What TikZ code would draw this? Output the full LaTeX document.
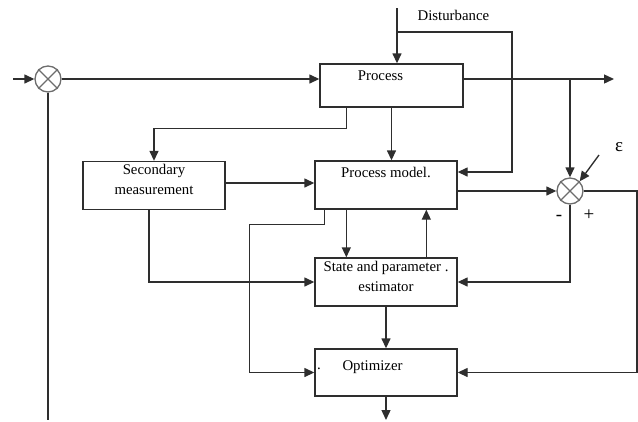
\documentclass[tikz,border=0pt]{standalone}
\usepackage{fontspec}
\setmainfont{Liberation Serif}
\usetikzlibrary{arrows.meta,positioning,calc}
\definecolor{LN}{HTML}{2E2E2E}

\begin{document}
\begin{tikzpicture}[x=1pt,y=-1pt, line width=1.35pt, color=LN,
    blk/.style={draw=LN, minimum width=142pt, minimum height=48pt, inner sep=0pt},
    txt/.style={font=\fontsize{14.8}{20}\selectfont, align=center, inner sep=0pt, text=black},
    sign/.style={font=\fontsize{19}{20}\selectfont, inner sep=0pt, text=black},
    sumj/.style={circle, draw=LN!70, minimum size=26pt, inner sep=0pt},
    arr/.style={-{Triangle[length=10pt,width=9pt]}}]
  \useasboundingbox (0,0) rectangle (638,421);

  % blocks
  \node[blk, minimum width=143pt, minimum height=43pt,
        label={[txt, xshift=-11pt, yshift=9.5pt]center:Process}] (proc) at (391.5,85.5) {};
  \node[blk, label={[txt, yshift=13pt]center:Process model.}] (pm) at (386,185) {};
  \node[blk, label={[txt, yshift=6pt]center:Secondary\\measurement}] (sm) at (154,185.5) {};
  \node[blk, label={[txt, yshift=6pt]center:State and parameter .\\estimator}] (st) at (386,282) {};
  \node[blk, minimum height=47pt,
        label={[txt, xshift=-13.5pt, yshift=5.5pt]center:Optimizer},
        label={[txt, anchor=west, xshift=2pt, yshift=3.5pt]west:.}] (opt) at (386,372.5) {};

  % summing junctions
  \node[sumj] (s1) at (48,79) {};
  \node[sumj] (s2) at (570,191) {};
  \foreach \s in {s1,s2}
    \draw[LN!70] (\s.45) -- (\s.225) (\s.135) -- (\s.315);

  % free ends
  \coordinate (in) at (13,79);
  \coordinate (dtop) at (397,8);
  \coordinate (dbr) at (397,32);
  \coordinate (dr) at (512,172);
  \coordinate (out) at (614,79);
  \coordinate (eps) at (599,155);
  \coordinate (fb) at (637,0);
  \coordinate (bot) at (0,420);

  % texts
  \node[txt, anchor=west] (dist) at (417,15) {Disturbance};
  \node[sign] (epsl) at (619,147) {ε};
  \node[sign] (minus) at (559,218) {-};
  \node[sign] (plus) at (589,215) {+};

  % connectors
  \draw[arr] (in) -- (s1.west);
  \draw[arr] (s1.east) -- (s1.east -| proc.west);
  \draw[arr] (dtop) -- (dtop |- proc.north);
  \draw[arr] (dbr) -| (dr) -- (dr -| pm.east);
  \draw[arr] (out -| proc.east) -- (out);
  \draw[arr] (out -| s2) -- (s2.north);
  \draw[arr] (eps) -- (s2.north east);
  \draw[arr] (pm.east |- s2) -- (s2.west);
  \draw[arr] (s2.east) -- (s2.east -| fb) |- (opt.east);
  \draw[arr] (s2.south) |- (st.east);
  \draw[arr] ($(proc.south west)+(27,0)$) -- ++(0,21) -| (sm.north);
  \draw[arr] (proc.south) -- (proc.south |- pm.north);
  \draw[arr] ($(sm.east)+(0,-2.5)$) coordinate (a) -- (a -| pm.west);
  \draw[arr] ($(sm.south)+(-5,0)$) |- (st.west);
  \draw[arr] ($(pm.south west)+(32,0)$) coordinate (b) -- (b |- st.north);
  \draw[arr] ($(st.north west)+(112,0)$) coordinate (c) -- (c |- pm.south);
  \draw[arr] ($(pm.south west)+(10,0)$) -- ++(0,15) -- ++(-75,0) |- (opt.west);
  \draw[arr] (st.south) -- (opt.north);
  \draw[arr] (opt.south) -- (opt.south |- bot);
  \draw (s1.south) -- (s1.south |- bot);
\end{tikzpicture}
\end{document}
